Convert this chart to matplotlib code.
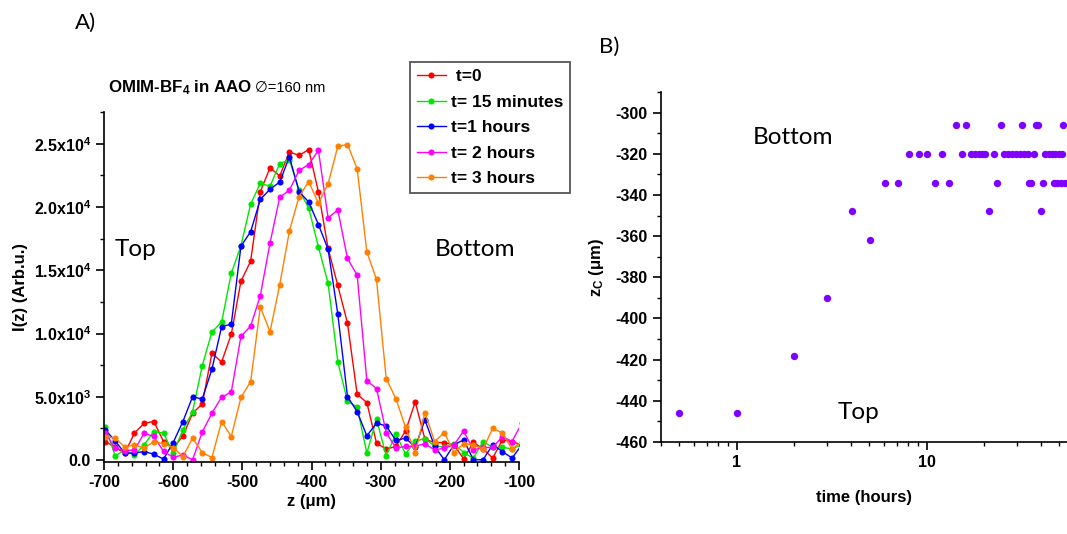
import numpy as np
import matplotlib
matplotlib.use('Agg')
import matplotlib.pyplot as plt
from matplotlib.ticker import MultipleLocator, FixedLocator, NullFormatter, LogLocator

plt.rcParams['font.family'] = ['Liberation Sans', 'DejaVu Sans']
plt.rcParams['mathtext.fontset'] = 'custom'
plt.rcParams['mathtext.rm'] = 'Liberation Sans'
plt.rcParams['mathtext.bf'] = 'Liberation Sans:bold'
plt.rcParams['mathtext.it'] = 'Liberation Sans:italic'
plt.rcParams['axes.unicode_minus'] = False

# scan positions (um)
z = [-698, -684, -670, -656, -642, -628, -614, -600, -586, -572, -558,
     -544, -530, -516, -502, -488, -474, -460, -446, -432, -418, -404,
     -390, -376, -362, -348, -334, -320, -306, -292, -278, -264, -250,
     -236, -222, -208, -194, -180, -166, -152, -138, -124, -110, -96]

I_t0 = [1470, 1000, 550, 2130, 2920, 3050, 1470, 950, 1900, 3700, 4440,
        8440, 7750, 9940, 14140, 15720, 21200, 23100, 22450, 24340, 24080, 24530,
        21180, 16720, 13800, 10830, 5200, 4550, 1340, 870, 1080, 2300, 4600,
        1650, 1390, 1390, 1200, 100, 1400, 900, 160, 1600, 1470, 1200]
I_15min = [2650, 340, 800, 420, 1200, 2260, 2130, 550, 2390, 3810, 7460,
           10120, 10900, 14750, 16950, 20230, 21870, 21630, 23420, 23740, 21350, 19900,
           16850, 13960, 7780, 4650, 4200, 550, 3230, 360, 2050, 500, 1500,
           1700, 1100, 1050, 1300, 600, 150, 1470, 1000, 1000, 900, 1200]
I_1h = [2390, 1520, 550, 550, 680, 470, 80, 1390, 3050, 5000, 4830,
        7180, 10540, 10750, 16900, 18050, 20600, 21400, 21970, 23970, 21210, 20390,
        18610, 16650, 11540, 5020, 3830, 1920, 2920, 2700, 1550, 1740, 1030,
        3180, 1080, 30, 1210, 1600, 30, 30, 1210, 680, 160, 1210]
I_2h = [2130, 950, 750, 800, 2130, 1870, 700, 230, 400, 30, 2210,
        3710, 4970, 5380, 9780, 10590, 13000, 17150, 20760, 21320, 22890, 23350,
        24470, 19130, 19770, 15930, 14610, 6280, 5650, 2180, 950, 1080, 1100,
        1300, 800, 950, 1200, 2300, 800, 1000, 1000, 1860, 1470, 2920]
I_3h = [1860, 1740, 1030, 1210, 950, 1470, 1290, 990, 280, 1740, 600,
        200, 3050, 1860, 4950, 6200, 12110, 10130, 13860, 18080, 20820, 22000,
        20290, 21820, 24790, 24930, 23030, 16450, 14270, 6440, 4850, 2600, 600,
        3750, 1470, 2180, 600, 1300, 1210, 870, 2520, 2130, 870, 1470]

labels = [' t=0', 't= 15 minutes', 't=1 hours', 't= 2 hours', 't= 3 hours']
colors = ['#ff0000', '#00e600', '#0000ff', '#ff00ff', '#ff8000']

# centre position vs time
time_h = [0.5, 1, 2, 3, 4.05, 5.03, 6.05, 7.1, 8.1, 9.1, 10.1, 11.1, 12.1, 13.1,
          14.2, 15.3, 16.2, 17.2, 18.0, 18.8, 19.5, 20.3, 21.3, 22.5, 23.4, 24.5,
          25.5, 26.8, 28.1, 29.5, 31.0, 31.8, 32.5, 34.0, 34.4, 35.4, 36.8, 37.6,
          38.7, 39.8, 40.8, 42.0, 43.9, 45.6, 46.9, 47.5, 48.3, 49.5, 50.9, 51.5,
          52.4, 53.5]
z_c = [-446, -446, -418, -390, -348, -362, -334, -334, -320, -320, -320, -334, -320, -334,
       -306, -320, -306, -320, -320, -320, -320, -320, -348, -320, -334, -306,
       -320, -320, -320, -320, -320, -306, -320, -320, -334, -334, -320, -306,
       -306, -348, -334, -320, -320, -320, -334, -320, -334, -320, -334, -320,
       -306, -334]

fig = plt.figure(figsize=(10.67, 5.34), dpi=100)

# ---- panel A ----
ax1 = fig.add_axes([0.0975, 0.1348, 0.3889, 0.6554])
series = [I_t0, I_15min, I_1h, I_2h, I_3h]
handles = []
for ys, c, lab in zip(series, colors, labels):
    h, = ax1.plot(z, ys, '-', color=c, lw=1.0, marker='o', ms=4.4,
                  markeredgewidth=0, label=lab)
    handles.append(h)
ax1.set_xlim(-700, -100)
ax1.set_ylim(-150, 27500)
ax1.xaxis.set_major_locator(MultipleLocator(100))
ax1.xaxis.set_minor_locator(MultipleLocator(20))
ax1.set_yticks([0, 5000, 10000, 15000, 20000, 25000])
ax1.set_yticklabels(['0.0', r'5.0x10$^\mathbf{3}$', r'1.0x10$^\mathbf{4}$',
                     r'1.5x10$^\mathbf{4}$', r'2.0x10$^\mathbf{4}$', r'2.5x10$^\mathbf{4}$'])
ax1.yaxis.set_minor_locator(MultipleLocator(2500))
for s in ['top', 'right']:
    ax1.spines[s].set_visible(False)
for s in ['left', 'bottom']:
    ax1.spines[s].set_linewidth(1.2)
ax1.tick_params(which='major', direction='out', length=6, width=1.2, labelsize=11.5)
ax1.tick_params(which='minor', direction='out', length=3, width=1.0)
for t in ax1.get_xticklabels() + ax1.get_yticklabels():
    t.set_fontweight('bold')
ax1.set_xlabel('z (\u03bcm)', fontsize=12, fontweight='bold', labelpad=3)
ax1.set_ylabel('I(z) (Arb.u.)', fontsize=12, fontweight='bold', labelpad=4)

fig.text(0.1078, 0.532, 'Top', fontsize=17.5, family='Lato', va='center')
fig.text(0.4077, 0.532, 'Bottom', fontsize=17.5, family='Lato', va='center')
fig.text(0.101, 0.835, r'OMIM-BF$_\mathbf{4}$ in AAO', fontsize=12.2,
         fontweight='bold', va='center')
fig.text(0.239, 0.835, '\u2205=160 nm', fontsize=10.5, va='center',
         family=['Liberation Sans', 'DejaVu Sans'])
fig.text(0.07, 0.958, 'A)', fontsize=16, family='Lato', va='center')

fig.legend(handles=handles, loc='upper left', bbox_to_anchor=(0.384, 0.884),
           borderaxespad=0, frameon=True, fancybox=False, edgecolor='#555555',
           framealpha=1, prop={'weight': 'bold', 'size': 12.5}, handlelength=1.7,
           handletextpad=0.25, labelspacing=0.6, borderpad=0.4, numpoints=1)
fig.legends[0].get_frame().set_linewidth(1.3)

# ---- panel B ----
ax2 = fig.add_axes([0.6195, 0.1723, 0.3805, 0.6554])
ax2.plot(time_h, z_c, 'o', color='#7f00ff', ms=5.3, markeredgewidth=0)
ax2.set_xscale('log')
ax2.set_xlim(0.4, 54.8)
ax2.set_ylim(-460, -290)
ax2.xaxis.set_major_locator(FixedLocator([1, 10]))
ax2.set_xticklabels(['1', '10'])
ax2.xaxis.set_minor_locator(LogLocator(base=10, subs=np.arange(2, 10)))
ax2.xaxis.set_minor_formatter(NullFormatter())
ax2.yaxis.set_major_locator(MultipleLocator(20))
ax2.yaxis.set_minor_locator(MultipleLocator(10))
for s in ['top', 'right']:
    ax2.spines[s].set_visible(False)
for s in ['left', 'bottom']:
    ax2.spines[s].set_linewidth(1.2)
ax2.tick_params(which='major', direction='out', length=6, width=1.2, labelsize=11.5)
ax2.tick_params(which='minor', direction='out', length=3, width=1.0)
for t in ax2.get_xticklabels() + ax2.get_yticklabels():
    t.set_fontweight('bold')
ax2.set_xlabel('time (hours)', fontsize=12, fontweight='bold', labelpad=14)
ax2.set_ylabel('z$_\\mathbf{C}$ (\u03bcm)', fontsize=12, fontweight='bold', labelpad=7)
fig.text(0.7057, 0.743, 'Bottom', fontsize=17.5, family='Lato', va='center')
fig.text(0.785, 0.227, 'Top', fontsize=17.5, family='Lato', va='center')
fig.text(0.561, 0.913, 'B)', fontsize=16, family='Lato', va='center')

fig.savefig('out.png', dpi=100)
